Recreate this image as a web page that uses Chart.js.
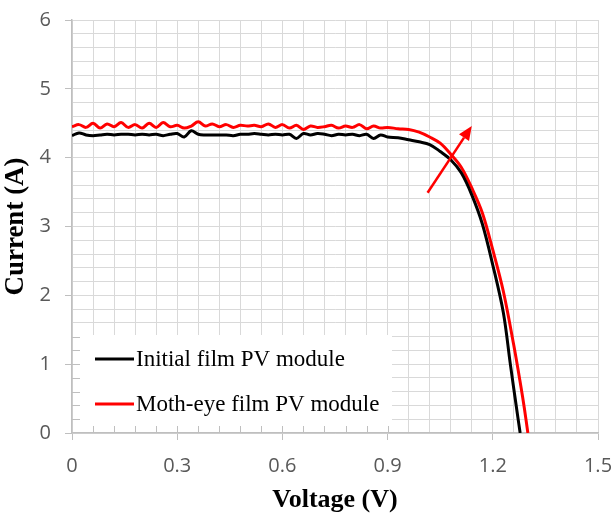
<!DOCTYPE html>
<html>
<head>
<meta charset="utf-8">
<script src="https://cdn.jsdelivr.net/npm/chart.js@4.4.1/dist/chart.umd.min.js"></script>
<style>
html, body { margin: 0; padding: 0; background: #fff; }
</style>
</head>
<body>
<canvas id="ivChart" width="611" height="520"></canvas>
<script>
// I-V curves
const voltsInitial = [0, 0.02, 0.04, 0.06, 0.08, 0.10, 0.12, 0.14, 0.16, 0.18,
    0.20, 0.22, 0.24, 0.26, 0.28, 0.30, 0.32, 0.34, 0.36, 0.38,
    0.40, 0.42, 0.44, 0.46, 0.48, 0.50, 0.52, 0.54, 0.56, 0.58,
    0.60, 0.62, 0.64, 0.66, 0.68, 0.70, 0.72, 0.74, 0.76, 0.78,
    0.80, 0.82, 0.84, 0.86, 0.88, 0.90,
    0.93, 0.96, 0.99, 1.02, 1.05, 1.08, 1.11, 1.14, 1.17, 1.20, 1.23, 1.25, 1.27, 1.278];
const currentInitial = [4.32, 4.36, 4.33, 4.32, 4.33, 4.34, 4.33, 4.34, 4.34, 4.33,
    4.34, 4.33, 4.34, 4.32, 4.34, 4.35, 4.30, 4.39, 4.34, 4.33,
    4.33, 4.33, 4.33, 4.32, 4.34, 4.34, 4.35, 4.34, 4.33, 4.34,
    4.33, 4.34, 4.28, 4.35, 4.33, 4.35, 4.34, 4.32, 4.34, 4.33,
    4.34, 4.32, 4.34, 4.28, 4.33, 4.30,
    4.29, 4.26, 4.23, 4.19, 4.09, 3.97, 3.78, 3.46, 3.04, 2.44, 1.75, 1.00, 0.28, 0];

const voltsMoth = [0, 0.02, 0.04, 0.06, 0.08, 0.10, 0.12, 0.14, 0.16, 0.18,
    0.20, 0.22, 0.24, 0.26, 0.28, 0.30, 0.32, 0.34, 0.36, 0.38,
    0.40, 0.42, 0.44, 0.46, 0.48, 0.50, 0.52, 0.54, 0.56, 0.58,
    0.60, 0.62, 0.64, 0.66, 0.68, 0.70, 0.72, 0.74, 0.76, 0.78,
    0.80, 0.82, 0.84, 0.86, 0.88, 0.90,
    0.93, 0.96, 0.99, 1.02, 1.05, 1.08, 1.11, 1.14, 1.17, 1.20, 1.23, 1.26, 1.28, 1.29, 1.30];
const currentMoth = [4.45, 4.48, 4.44, 4.50, 4.43, 4.49, 4.45, 4.51, 4.44, 4.48,
    4.43, 4.50, 4.44, 4.51, 4.45, 4.47, 4.43, 4.46, 4.52, 4.46,
    4.49, 4.45, 4.48, 4.44, 4.47, 4.46, 4.47, 4.45, 4.49, 4.44,
    4.48, 4.43, 4.47, 4.41, 4.46, 4.44, 4.45, 4.47, 4.43, 4.46,
    4.44, 4.48, 4.42, 4.46, 4.43, 4.44,
    4.42, 4.41, 4.37, 4.30, 4.21, 4.05, 3.86, 3.56, 3.20, 2.66, 2.06, 1.27, 0.68, 0.36, 0];

const seriesLabels = ['Initial film PV module', 'Moth-eye film PV module'];
const seriesColors = ['#000000', '#ff0000'];
const xTickLabels = [0, 0.3, 0.6, 0.9, 1.2, 1.5];
const yTickLabels = [0, 1, 2, 3, 4, 5, 6];

// arrow (voltage, current)
const arrowFrom = [1.014, 3.49];
const arrowTo = [1.14, 4.46];

function isLabelled(v, list) {
    return list.some(t => Math.abs(t - v) < 1e-6);
}

const overlay = {
    id: 'overlay',
    beforeDatasetsDraw(chart) {
        const c = chart.ctx;
        const xs = chart.scales.x, ys = chart.scales.y;
        const box = { left: 73, top: 335, right: 392, bottom: 432 };
        c.save();
        c.fillStyle = '#fff';
        c.fillRect(box.left, box.top, box.right - box.left, box.bottom - box.top);
        // short inner ticks stay visible under the legend
        c.strokeStyle = '#bfbfbf';
        c.lineWidth = 1;
        c.beginPath();
        xs.ticks.forEach(t => {
            const px = Math.round(xs.getPixelForValue(t.value)) + 0.5;
            if (px > box.left && px < box.right) {
                c.moveTo(px, xs.top);
                c.lineTo(px, xs.top - 7);
            }
        });
        ys.ticks.forEach(t => {
            const py = Math.round(ys.getPixelForValue(t.value)) + 0.5;
            if (py > box.top && py < box.bottom) {
                c.moveTo(ys.right, py);
                c.lineTo(ys.right + 8, py);
            }
        });
        c.stroke();
        c.restore();
    },
    afterDraw(chart) {
        const c = chart.ctx;
        const xs = chart.scales.x, ys = chart.scales.y;
        c.save();
        // legend
        c.font = '23px "Liberation Serif"';
        c.textBaseline = 'middle';
        const rows = [359, 404];
        seriesLabels.forEach((lab, i) => {
            c.strokeStyle = seriesColors[i];
            c.lineWidth = 3;
            c.beginPath();
            c.moveTo(95, rows[i]);
            c.lineTo(134, rows[i]);
            c.stroke();
            c.fillStyle = '#000';
            c.fillText(lab, 136, rows[i] + 1);
        });
        // arrow
        const x1 = xs.getPixelForValue(arrowFrom[0]), y1 = ys.getPixelForValue(arrowFrom[1]);
        const x2 = xs.getPixelForValue(arrowTo[0]), y2 = ys.getPixelForValue(arrowTo[1]);
        const ang = Math.atan2(y2 - y1, x2 - x1);
        const headLen = 14, headW = 6;
        const bx = x2 - headLen * Math.cos(ang), by = y2 - headLen * Math.sin(ang);
        c.strokeStyle = '#ff0000';
        c.fillStyle = '#ff0000';
        c.lineWidth = 2.5;
        c.beginPath();
        c.moveTo(x1, y1);
        c.lineTo(bx, by);
        c.stroke();
        c.beginPath();
        c.moveTo(x2, y2);
        c.lineTo(bx + headW * Math.sin(ang), by - headW * Math.cos(ang));
        c.lineTo(bx - headW * Math.sin(ang), by + headW * Math.cos(ang));
        c.closePath();
        c.fill();
        c.restore();
    }
};

new Chart(document.getElementById('ivChart'), {
    type: 'line',
    data: {
        datasets: [{
            label: seriesLabels[0],
            data: voltsInitial.map((v, i) => ({ x: v, y: currentInitial[i] })),
            borderColor: seriesColors[0],
            borderWidth: 3,
            pointRadius: 0,
            tension: 0.35,
            fill: false
        },
        {
            label: seriesLabels[1],
            data: voltsMoth.map((v, i) => ({ x: v, y: currentMoth[i] })),
            borderColor: seriesColors[1],
            borderWidth: 3,
            pointRadius: 0,
            tension: 0.35,
            fill: false
        }]
    },
    options: {
        responsive: false,
        animation: false,
        layout: {
            padding: 0
        },
        plugins: {
            legend: { display: false },
            tooltip: { enabled: false }
        },
        scales: {
            x: {
                type: 'linear',
                min: 0,
                max: 1.5,
                afterFit: s => { s.height = 87; s.paddingRight = 13; s.paddingLeft = 0; },
                border: { color: '#bfbfbf', width: 1.5 },
                grid: {
                    color: '#d9d9d9',
                    tickLength: 7,
                    tickColor: ctx => isLabelled(ctx.tick.value, xTickLabels) ? '#bfbfbf' : 'rgba(0,0,0,0)'
                },
                ticks: {
                    stepSize: 0.06,
                    autoSkip: false,
                    maxRotation: 0,
                    minRotation: 0,
                    padding: 14,
                    color: '#595959',
                    font: { family: 'Open Sans', size: 20 },
                    callback: v => isLabelled(v, xTickLabels) ? String(+v.toFixed(1)) : ''
                },
                title: {
                    display: true,
                    text: 'Voltage (V)',
                    color: '#000',
                    font: { family: 'Liberation Serif', size: 26, weight: 'bold' },
                    padding: { top: 0, bottom: 4 }
                }
            },
            y: {
                min: 0,
                max: 6,
                afterFit: s => { s.width = 72; s.paddingTop = 20; s.paddingBottom = 0; },
                border: { color: '#bfbfbf', width: 1.5 },
                grid: {
                    color: '#d9d9d9',
                    tickLength: 7,
                    tickColor: ctx => isLabelled(ctx.tick.value, yTickLabels) ? '#bfbfbf' : 'rgba(0,0,0,0)'
                },
                ticks: {
                    stepSize: 0.2,
                    autoSkip: false,
                    padding: 14,
                    color: '#595959',
                    font: { family: 'Open Sans', size: 20 },
                    callback: v => isLabelled(v, yTickLabels) ? String(Math.round(v)) : ''
                },
                title: {
                    display: true,
                    text: 'Current (A)',
                    color: '#000',
                    font: { family: 'Liberation Serif', size: 27, weight: 'bold' },
                    padding: { top: 0, bottom: 0 }
                }
            }
        }
    },
    plugins: [overlay]
});
</script>
</body>
</html>
